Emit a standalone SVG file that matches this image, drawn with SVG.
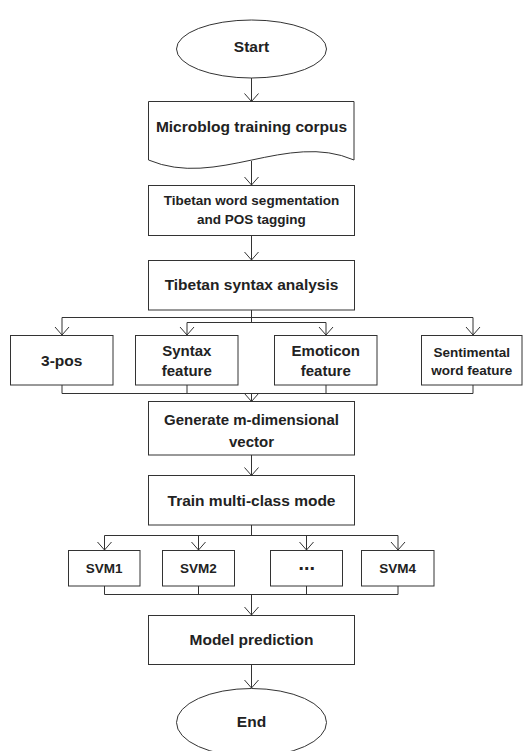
<svg xmlns="http://www.w3.org/2000/svg" width="525" height="751" viewBox="0 0 525 751">
<defs>
<style>
.shape{fill:#fff;stroke:#333;stroke-width:1}
.t{font-family:"Liberation Sans",Arial,sans-serif;font-weight:bold;fill:#222;text-anchor:middle;font-size:15.5px}
.s{font-size:13.5px}
.m{font-size:15px}
.c{fill:none;stroke:#333;stroke-width:1}
</style>
<marker id="arr" viewBox="-9 -8 10 16" refX="0" refY="0" markerWidth="10" markerHeight="16" markerUnits="userSpaceOnUse" orient="auto">
<path d="M-8,-7 L0,0 L-8,7" fill="none" stroke="#333" stroke-width="1"/>
</marker>
</defs>
<rect width="525" height="751" fill="#fff"/>
<g id="connectors">
<path class="c" d="M251.5,78 V101.5" marker-end="url(#arr)"/>
<path class="c" d="M251.5,161 V185" marker-end="url(#arr)"/>
<path class="c" d="M251.5,235.5 V260" marker-end="url(#arr)"/>
<path class="c" d="M251.5,310 V322.5 M62,317.5 H473 M187,322.5 H326"/>
<path class="c" d="M62,317.5 V335" marker-end="url(#arr)"/>
<path class="c" d="M187,322.5 V335" marker-end="url(#arr)"/>
<path class="c" d="M326,322.5 V335" marker-end="url(#arr)"/>
<path class="c" d="M473,317.5 V335" marker-end="url(#arr)"/>
<path class="c" d="M62,385 V393.5 M187,385 V393.5 M326,385 V393.5 M473,385 V393.5 M62,393.5 H473"/>
<path class="c" d="M251.5,393.5 V401.5" marker-end="url(#arr)"/>
<path class="c" d="M251.5,455 V475.5" marker-end="url(#arr)"/>
<path class="c" d="M251.5,525 V535.5 M104.5,535.5 H398"/>
<path class="c" d="M104.5,535.5 V550" marker-end="url(#arr)"/>
<path class="c" d="M198.5,535.5 V550" marker-end="url(#arr)"/>
<path class="c" d="M306.5,535.5 V550" marker-end="url(#arr)"/>
<path class="c" d="M398,535.5 V550" marker-end="url(#arr)"/>
<path class="c" d="M104.5,586 V594.5 M198.5,586 V594.5 M306.5,586 V594.5 M398,586 V594.5 M104.5,594.5 H398"/>
<path class="c" d="M251.5,594.5 V615" marker-end="url(#arr)"/>
<path class="c" d="M251.5,664.5 V688" marker-end="url(#arr)"/>
</g>
<g id="start">
<ellipse class="shape" cx="251.5" cy="49" rx="75" ry="29"/>
<text class="t" x="251.5" y="51.5">Start</text>
</g>
<g id="corpus">
<path class="shape" d="M148.5,101.5 H354 V160 C287,131 217,189 148.5,160 Z"/>
<text class="t" x="251.5" y="132">Microblog training corpus</text>
</g>
<g id="segmentation">
<rect class="shape" x="148.5" y="185.5" width="206" height="50"/>
<text class="t s" x="251.5" y="204.5">Tibetan word segmentation</text>
<text class="t s" x="251.5" y="223.5">and POS tagging</text>
</g>
<g id="syntax-analysis">
<rect class="shape" x="148.5" y="260.5" width="206" height="49.5"/>
<text class="t" x="251.5" y="290">Tibetan syntax analysis</text>
</g>
<g id="pos3">
<rect class="shape" x="10.5" y="335.5" width="102.5" height="49.5"/>
<text class="t" x="61.75" y="366">3-pos</text>
</g>
<g id="syntax-feature">
<rect class="shape" x="135.5" y="335.5" width="102.5" height="49.5"/>
<text class="t m" x="186.75" y="355.5">Syntax</text>
<text class="t m" x="186.75" y="376">feature</text>
</g>
<g id="emoticon-feature">
<rect class="shape" x="274.5" y="335.5" width="102.5" height="49.5"/>
<text class="t m" x="325.75" y="355.5">Emoticon</text>
<text class="t m" x="325.75" y="376">feature</text>
</g>
<g id="sentimental-feature">
<rect class="shape" x="421.5" y="335.5" width="100.5" height="49.5"/>
<text class="t s" x="471.75" y="357">Sentimental</text>
<text class="t s" x="471.75" y="375">word feature</text>
</g>
<g id="generate">
<rect class="shape" x="148.5" y="401.5" width="206" height="53.5"/>
<text class="t m" x="251.5" y="425">Generate m-dimensional</text>
<text class="t m" x="251.5" y="446.5">vector</text>
</g>
<g id="train">
<rect class="shape" x="148.5" y="475.5" width="206" height="49.5"/>
<text class="t" x="251.5" y="506">Train multi-class mode</text>
</g>
<g id="svm1">
<rect class="shape" x="68.5" y="550.5" width="71.5" height="35.5"/>
<text class="t s" x="104.25" y="573">SVM1</text>
</g>
<g id="svm2">
<rect class="shape" x="162.5" y="550.5" width="72" height="35.5"/>
<text class="t s" x="198.5" y="573">SVM2</text>
</g>
<g id="svm-more">
<rect class="shape" x="270.5" y="550.5" width="72" height="35.5"/>
<text x="306.5" y="574" style="font-family:'DejaVu Sans',sans-serif;font-weight:bold;font-size:16px;fill:#222;text-anchor:middle">⋯</text>
</g>
<g id="svm4">
<rect class="shape" x="361.5" y="550.5" width="72.5" height="35.5"/>
<text class="t s" x="397.75" y="573">SVM4</text>
</g>
<g id="prediction">
<rect class="shape" x="148.5" y="615.5" width="206" height="49"/>
<text class="t" x="251.5" y="645">Model prediction</text>
</g>
<g id="end">
<ellipse class="shape" cx="251.5" cy="722.5" rx="75" ry="34"/>
<text class="t" x="251.5" y="726.5">End</text>
</g>
</svg>
